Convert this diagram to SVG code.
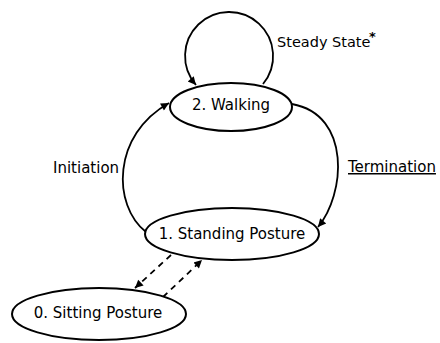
<svg xmlns="http://www.w3.org/2000/svg" width="440" height="343" viewBox="0 0 440 343">
<style>
.node{fill:#fff;stroke:#000;stroke-width:2}
.lbl{font-family:"DejaVu Sans",Verdana,sans-serif;font-size:15px;fill:#000}
.edge{fill:none;stroke:#000;stroke-width:1.8}
.dash{stroke-dasharray:6 5}
</style>
<defs>
<marker id="arr" viewBox="0 0 10 10" refX="10" refY="5" markerWidth="10" markerHeight="8" markerUnits="userSpaceOnUse" orient="auto">
<path d="M0,0 L10,5 L0,10 z" fill="#000"/>
</marker>
</defs>
<rect width="440" height="343" fill="#fff"/>
<g id="connectors">
<path class="edge" d="M263,84 A44,44 0 1 0 196,85" marker-end="url(#arr)"/>
<path class="edge" d="M146,232 C112,205 112,135 169,103" marker-end="url(#arr)"/>
<path class="edge" d="M292,104 C352,115 345,195 318,227" marker-end="url(#arr)"/>
<path class="edge dash" d="M171,255 L135,288" marker-end="url(#arr)"/>
<path class="edge dash" d="M163,297 L202,260" marker-end="url(#arr)"/>
</g>
<g id="walking">
<ellipse class="node" cx="231" cy="107" rx="61" ry="24"/>
<text class="lbl" x="231" y="110" text-anchor="middle">2. Walking</text>
</g>
<g id="standing">
<ellipse class="node" cx="232" cy="234" rx="87" ry="26"/>
<text class="lbl" x="232" y="239" text-anchor="middle">1. Standing Posture</text>
</g>
<g id="sitting">
<ellipse class="node" cx="99" cy="314" rx="87" ry="26"/>
<text class="lbl" x="98" y="318" text-anchor="middle">0. Sitting Posture</text>
</g>
<g id="labels">
<text class="lbl" x="277" y="47" style="font-size:14.5px">Steady State</text>
<text class="lbl" x="369" y="41" style="font-size:13px;font-weight:bold">*</text>
<text class="lbl" x="53" y="173">Initiation</text>
<text class="lbl" x="348" y="172" text-decoration="underline">Termination</text>
</g>
</svg>
